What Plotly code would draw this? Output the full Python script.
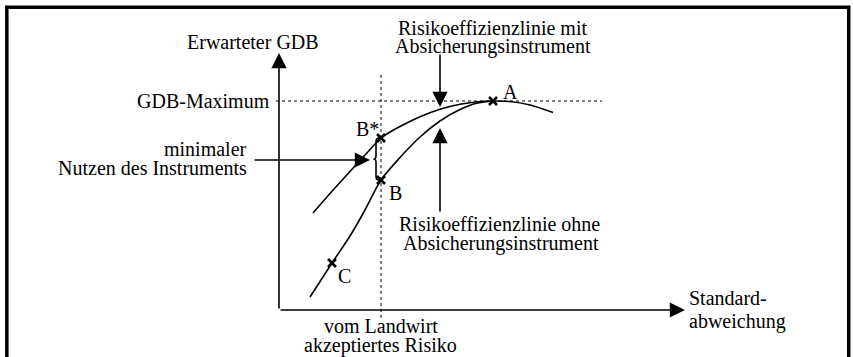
import plotly.graph_objects as go

# chart units: origin at the axis crossing, 1 unit = 25 px
# curve "mit Absicherungsinstrument"
mit_x = [1.36, 2.04, 2.84, 3.44, 4.08, 4.44, 4.84, 5.64, 6.44, 7.24, 8.04, 8.56, 9.24, 10.04, 10.96]
mit_y = [3.88, 4.66, 5.54, 6.20, 6.88, 7.12, 7.34, 7.73, 8.03, 8.23, 8.34, 8.36, 8.34, 8.20, 7.90]

# curve "ohne Absicherungsinstrument"
ohne_x = [1.24, 2.12, 2.84, 3.44, 4.08, 4.84, 5.64, 6.44, 7.24, 7.90, 8.56]
ohne_y = [0.52, 1.88, 2.96, 4.00, 5.20, 6.10, 6.92, 7.56, 8.02, 8.27, 8.36]

# marked points
pt_names = ["A", "B*", "B", "C"]
pt_x = [8.56, 4.08, 4.08, 2.12]
pt_y = [8.36, 6.88, 5.20, 1.88]

gdb_max = 8.36
risk_accepted = 4.08
x_axis_end = 16.24
y_axis_end = 10.28

FONT = dict(family="Liberation Serif", size=20, color="black")

fig = go.Figure()

fig.add_trace(go.Scatter(x=mit_x, y=mit_y, mode="lines",
                         line=dict(color="black", width=1.6, shape="spline", smoothing=0.8),
                         hoverinfo="skip"))
fig.add_trace(go.Scatter(x=ohne_x, y=ohne_y, mode="lines",
                         line=dict(color="black", width=1.6, shape="spline", smoothing=0.8),
                         hoverinfo="skip"))
fig.add_trace(go.Scatter(x=pt_x, y=pt_y, mode="markers",
                         marker=dict(symbol="x-thin", size=8,
                                     line=dict(color="black", width=2.6)),
                         hoverinfo="skip"))

shapes = []
# frame
shapes.append(dict(type="rect", xref="paper", yref="paper", x0=0.008, x1=0.995,
                   y0=-0.1, y1=0.98, line=dict(color="black", width=3.5)))
# dotted guide lines
shapes.append(dict(type="line", x0=-0.12, x1=12.92, y0=gdb_max, y1=gdb_max,
                   line=dict(color="black", width=1, dash="dot")))
shapes.append(dict(type="line", x0=risk_accepted, x1=risk_accepted, y0=-0.32, y1=9.52,
                   line=dict(color="black", width=1, dash="dot")))

# curly brace between B* and B
bx = risk_accepted - 0.2
top, bot = pt_y[1], pt_y[2]
mid = (top + bot) / 2
path = (f"M {bx + 0.12},{top} Q {bx},{top} {bx},{top - 0.15} "
        f"L {bx},{mid + 0.12} Q {bx},{mid} {bx - 0.1},{mid} "
        f"Q {bx},{mid} {bx},{mid - 0.12} "
        f"L {bx},{bot + 0.15} Q {bx},{bot} {bx + 0.12},{bot}")
shapes.append(dict(type="path", path=path, line=dict(color="black", width=1.6)))

annotations = []


def arrow(x_tip, y_tip, x_tail, y_tail):
    annotations.append(dict(x=x_tip, y=y_tip, ax=x_tail, ay=y_tail,
                            xref="x", yref="y", axref="x", ayref="y",
                            text="", showarrow=True, arrowhead=2,
                            arrowsize=1.9, arrowwidth=1.6, arrowcolor="black"))


def label(text, x, y, xanchor="center"):
    annotations.append(dict(x=x, y=y, xref="x", yref="y", text=text,
                            showarrow=False, xanchor=xanchor, yanchor="middle",
                            font=FONT))


# axes
arrow(0, y_axis_end, 0, 0)
arrow(x_axis_end, 0, 0, 0)
# pointers
arrow(6.44, 8.12, 6.44, 10.28)
arrow(6.44, 7.28, 6.44, 3.88)
arrow(3.64, 6.0, -1.04, 6.0)

label("Erwarteter GDB", -1.04, 10.72)
label("GDB-Maximum", -0.3, gdb_max, "right")
label("minimaler", -1.2, 6.46, "right")
label("Nutzen des Instruments", -1.2, 5.70, "right")
label("Risikoeffizienzlinie mit", 8.52, 11.30)
label("Absicherungsinstrument", 8.56, 10.56)
label("Risikoeffizienzlinie ohne", 8.8, 3.46)
label("Absicherungsinstrument", 8.88, 2.68)
label("Standard-", 16.3, 0.48, "left")
label("abweichung", 16.3, -0.46, "left")
label("vom Landwirt", 4.08, -0.64)
label("akzeptiertes Risiko", 4.04, -1.42)
for name, lx, ly in zip(pt_names, [9.24, 3.52, 4.64, 2.6], [8.74, 7.24, 4.68, 1.36]):
    label(name, lx, ly)

fig.update_layout(
    width=853, height=357, autosize=False,
    margin=dict(l=0, r=0, t=0, b=0),
    paper_bgcolor="white", plot_bgcolor="white",
    showlegend=False,
    shapes=shapes, annotations=annotations,
    xaxis=dict(range=[-11.16, 22.96], visible=False, fixedrange=True),
    yaxis=dict(range=[-1.88, 12.4], visible=False, fixedrange=True),
)

fig.write_html("out.html", config={"displayModeBar": False},
               post_script="document.body.style.margin='0';")
